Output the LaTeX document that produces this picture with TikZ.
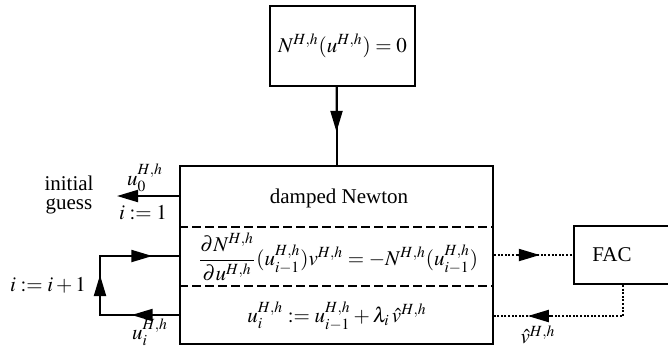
\documentclass[tikz,border=0pt]{standalone}
\usepackage{amsmath}
\usepackage{mathptmx}
\usepackage{fontspec}
\setmainfont{Liberation Serif}
\usetikzlibrary{arrows.meta,calc}
\begin{document}
\begin{tikzpicture}[x=0.5pt,y=-0.5pt, line width=1pt,
  font=\fontsize{10.5}{12.5}\selectfont,
  tip/.style={-{Triangle[length=10.5pt,width=6pt]}},
  dashsep/.style={dash pattern=on 4.5pt off 2pt, line width=0.9pt},
  dots/.style={dash pattern=on 1pt off 0.8pt, line width=0.8pt},
  box/.style={draw, inner sep=0pt},
  lbl/.style={inner sep=0pt}]
\useasboundingbox (0,0) rectangle (668,350);
% boxes
\node[box, minimum width=72.5pt, minimum height=40pt] (top) at (342.5,46) {$N^{H,h}(u^{H,h})=0$};
\node[box, minimum width=156.5pt, minimum height=89pt] (main) at (336.5,255) {};
\node[lbl] (dn) at (339,198) {damped Newton};
\node[lbl] (eq) at (338,257) {$\displaystyle\frac{\partial N^{H,h}}{\partial u^{H,h}}(u^{H,h}_{i-1})v^{H,h} = -N^{H,h}(u^{H,h}_{i-1})$};
\node[lbl] (up) at (337,316) {$u^{H,h}_i := u^{H,h}_{i-1} + \lambda_i\, \hat v^{H,h}$};
\coordinate (d1) at (0,227);
\coordinate (d2) at (0,286);
\draw[dashsep] (main.west |- d1) -- (main.east |- d1);
\draw[dashsep] (main.west |- d2) -- (main.east |- d2);
\node[box, minimum width=53pt, minimum height=29pt] (fac) at (627,255) {};
\node[lbl] (facl) at (612,255) {FAC};
% top arrow
\draw (top.south -| main.north) -- (main.north);
\draw[tip] (top.south -| main.north) -- ($(top.south -| main.north)!0.575!(main.north)$);
% initial guess
\coordinate (ig) at (117,196);
\draw[tip] (main.west |- ig) -- (ig);
\node[lbl, align=center, font=\fontsize{10.5}{9.5}\selectfont] (igl) at (69,195) {initial\\guess};
\node[lbl] (u0) at (145,178) {$u^{H,h}_0$};
\node[lbl] (i1) at (143,213) {$i:=1$};
% loop
\coordinate (lt) at (100,256);
\coordinate (lb) at (100,315);
\draw (main.west |- lt) -- (lt) -- (lb) -- (main.west |- lb);
\draw[tip] (lt) -- ($(lt)!0.6625!(main.west |- lt)$);
\draw[tip] (lb) -- ($(lb)!0.678!(lt)$);
\draw[tip] (main.west |- lb) -- ($(main.west |- lb)!0.6!(lb)$);
\node[lbl] (inc) at (48,285) {$i:=i+1$};
\node[lbl] (ui) at (150,332) {$u^{H,h}_i$};
% FAC connectors
\draw[dots] (main.east) -- (fac.west);
\draw[tip, shorten <=12pt] (main.east) -- ($(main.east)!0.58!(fac.west)$);
\coordinate (fr) at (623,316);
\draw[dots] (fac.south -| fr) -- (fr) -- (main.east |- fr);
\draw[tip, shorten <=36pt] (fr) -- ($(fr)!0.738!(main.east |- fr)$);
\node[lbl] (vh) at (538,335) {$\hat v^{H,h}$};
\end{tikzpicture}
\end{document}
